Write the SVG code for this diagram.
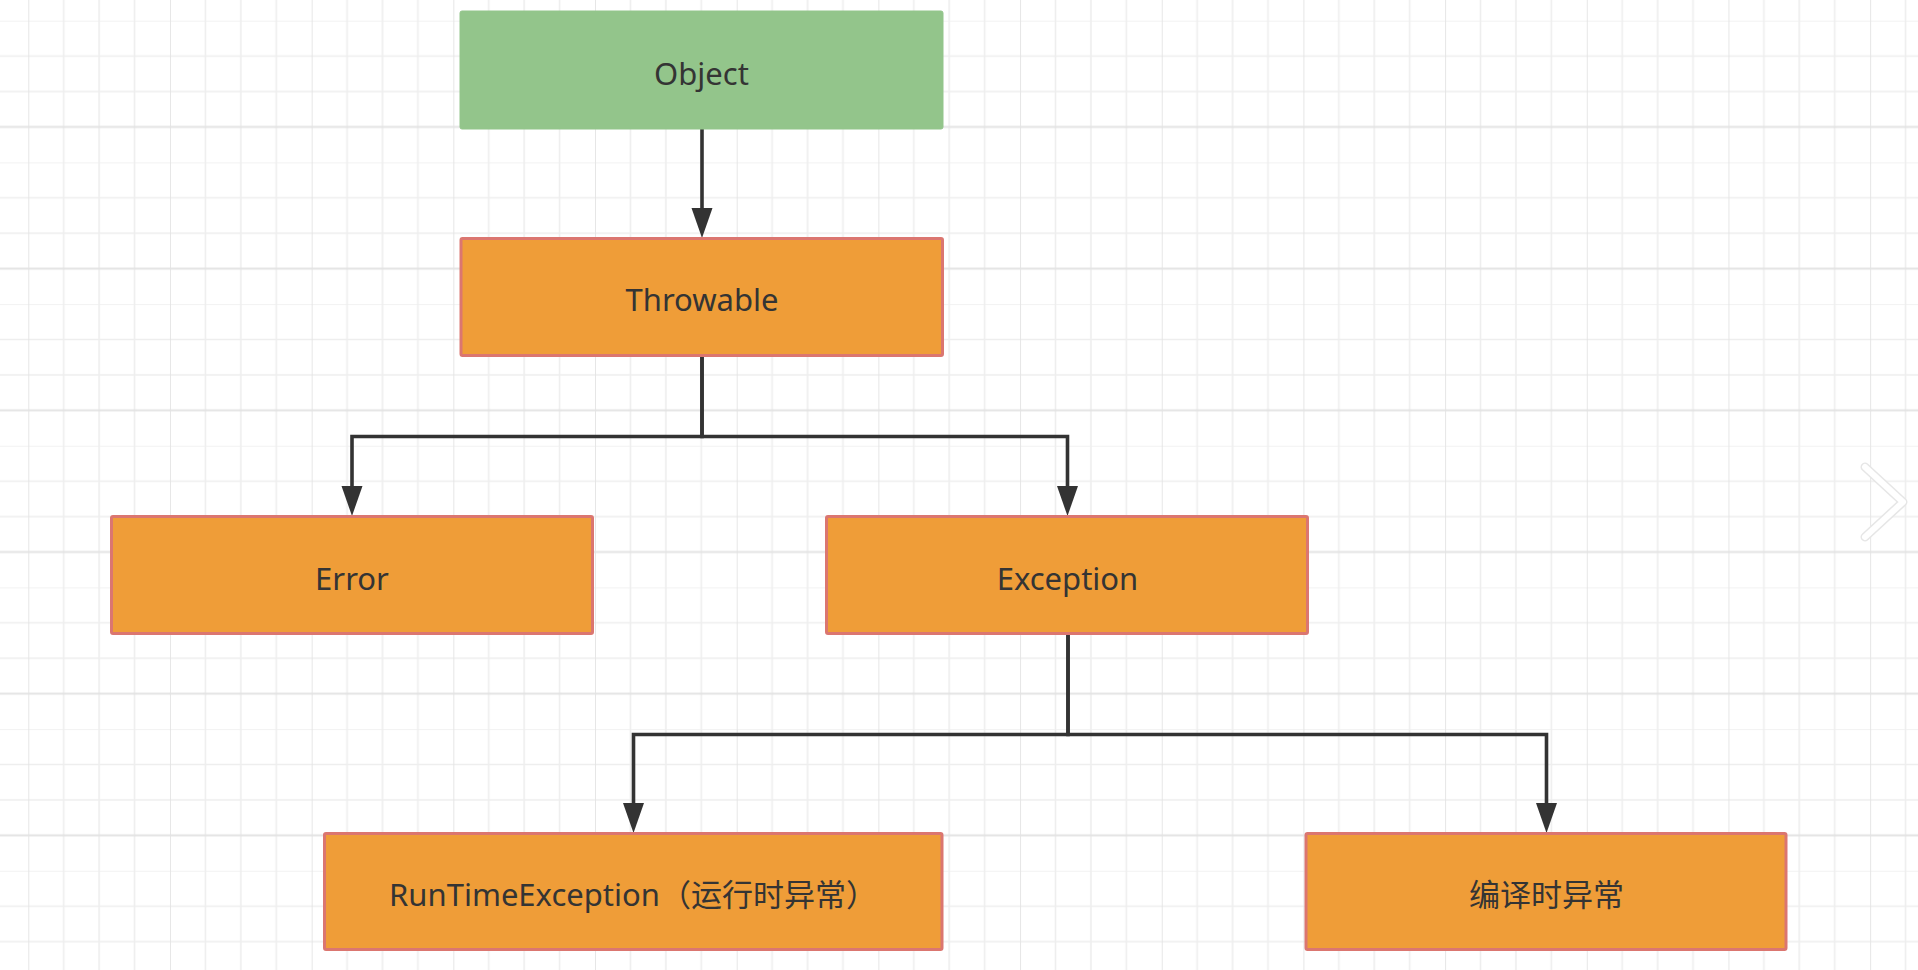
<svg xmlns="http://www.w3.org/2000/svg" width="1918" height="970" viewBox="0 0 1918 970">
  <style>
    .node-orange { fill: #ef9d38; stroke: #db7670; stroke-width: 3; }
    .node-green { fill: #93c58b; stroke: #93c58b; stroke-width: 1; }
    .label { font-family: "Noto Sans", "Noto Sans CJK SC", "Liberation Sans", sans-serif; font-size: 31px; fill: #343434; text-anchor: middle; }
    .edge { fill: none; stroke: #333333; stroke-width: 3.6; stroke-linejoin: miter; }
    .gmin { stroke: #eeeeee; stroke-width: 1.6; }
    .gmaj { stroke: #e3e3e3; stroke-width: 1.8; }
  </style>
  <defs>
    <pattern id="grid" patternUnits="userSpaceOnUse" x="28.3" y="20.7" width="141.68" height="141.68">
      <line class="gmin" x1="35.42" y1="0" x2="35.42" y2="141.68"/>
      <line class="gmin" x1="70.84" y1="0" x2="70.84" y2="141.68"/>
      <line class="gmin" x1="106.26" y1="0" x2="106.26" y2="141.68"/>
      <line class="gmin" x1="0" y1="0" x2="141.68" y2="0"/>
      <line class="gmin" x1="0" y1="35.42" x2="141.68" y2="35.42"/>
      <line class="gmin" x1="0" y1="70.84" x2="141.68" y2="70.84"/>
      <line class="gmaj" x1="0" y1="0" x2="0" y2="141.68"/>
      <line class="gmaj" x1="0" y1="106.26" x2="141.68" y2="106.26"/>
    </pattern>
    <marker id="arrow" markerUnits="userSpaceOnUse" viewBox="0 -12 32 24" markerWidth="32" markerHeight="24" refX="2" refY="0" orient="auto">
      <path d="M0,-10.5 L30,0 L0,10.5 Z" fill="#333333"/>
    </marker>
  </defs>

  <rect x="0" y="0" width="1918" height="970" fill="#ffffff"/>
  <rect x="0" y="0" width="1918" height="970" fill="url(#grid)"/>

  <g id="connectors">
    <path class="edge" d="M702,129 V210" marker-end="url(#arrow)"/>
    <path class="edge" d="M702,356 V436.5 H352 V488" marker-end="url(#arrow)"/>
    <path class="edge" d="M702,356 V436.5 H1067.5 V488" marker-end="url(#arrow)"/>
    <path class="edge" d="M1068,634 V734.5 H633.5 V805" marker-end="url(#arrow)"/>
    <path class="edge" d="M1068,634 V734.5 H1546.5 V805" marker-end="url(#arrow)"/>
  </g>

  <g id="node-object">
    <rect class="node-green" x="460" y="11" width="483" height="118" rx="2"/>
    <text class="label" x="701.5" y="85">Object</text>
  </g>
  <g id="node-throwable">
    <rect class="node-orange" x="461" y="238.5" width="481.5" height="117" rx="1.5"/>
    <text class="label" x="702" y="311">Throwable</text>
  </g>
  <g id="node-error">
    <rect class="node-orange" x="111.5" y="516.5" width="481" height="117" rx="1.5"/>
    <text class="label" x="352" y="590">Error</text>
  </g>
  <g id="node-exception">
    <rect class="node-orange" x="826.5" y="516.5" width="481" height="117" rx="1.5"/>
    <text class="label" x="1067.5" y="590">Exception</text>
  </g>
  <g id="node-runtime">
    <rect class="node-orange" x="324.5" y="833.5" width="617.5" height="116" rx="1.5"/>
    <text class="label" x="633" y="906">RunTimeException（运行时异常）</text>
  </g>
  <g id="node-compile">
    <rect class="node-orange" x="1306" y="833.5" width="480" height="116" rx="1.5"/>
    <text class="label" x="1546.5" y="906">编译时异常</text>
  </g>

  <g id="chevron">
    <polyline points="1865,467 1903,502 1865,537" fill="none" stroke="#e6e6e6" stroke-width="9" stroke-linecap="round" stroke-linejoin="round"/>
    <polyline points="1865,467 1903,502 1865,537" fill="none" stroke="#ffffff" stroke-width="6" stroke-linecap="round" stroke-linejoin="round"/>
  </g>
</svg>
